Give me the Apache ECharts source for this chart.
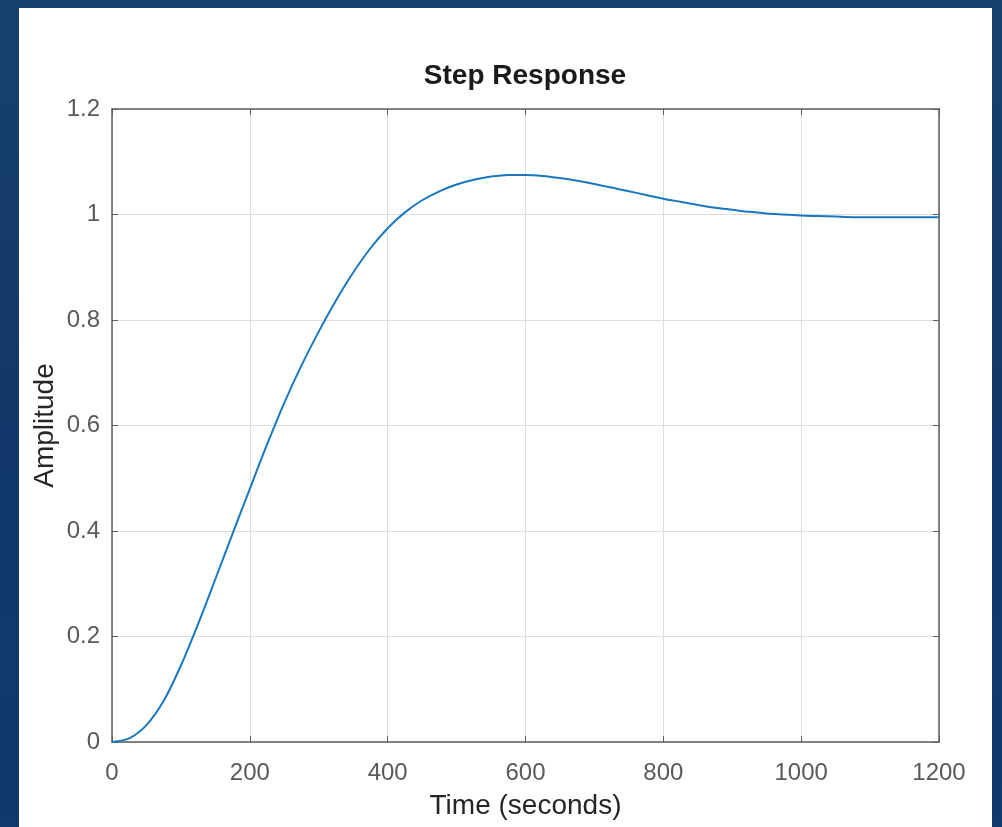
<!DOCTYPE html>
<html>
<head>
<meta charset="utf-8">
<style>
  html, body { margin: 0; padding: 0; width: 1002px; height: 827px; overflow: hidden;
    background: linear-gradient(180deg, #17406f 0%, #12386a 50%, #0f3a6e 100%); }
  #panel { position: absolute; left: 19px; top: 8px; width: 973px; height: 819px; background: #ffffff; }
  #chart { position: absolute; left: 0; top: 0; width: 1002px; height: 827px; }
</style>
<script src="https://cdn.jsdelivr.net/npm/echarts@6/dist/echarts.min.js"></script>
</head>
<body>
<div id="panel"></div>
<div id="chart"></div>
<script>
// Step response samples every 25 s
const timeSec = [0, 25, 50, 75, 100, 125, 150, 175, 200, 225, 250, 275, 300, 325, 350, 375, 400, 425, 450, 475,
  500, 525, 550, 575, 600, 625, 650, 675, 700, 725, 750, 775, 800, 825, 850, 875, 900, 925, 950, 975,
  1000, 1025, 1050, 1075, 1100, 1125, 1150, 1175, 1200];
const amplitude = [0, 0.007, 0.032, 0.078, 0.145, 0.224, 0.309, 0.395, 0.48, 0.564, 0.643, 0.714, 0.778, 0.837,
  0.890, 0.936, 0.974, 1.004, 1.027, 1.044, 1.057, 1.066, 1.072, 1.075, 1.075, 1.073, 1.069, 1.064, 1.058, 1.051,
  1.044, 1.037, 1.030, 1.024, 1.018, 1.013, 1.009, 1.005, 1.002, 1.0, 0.998, 0.997, 0.996, 0.995, 0.995,
  0.995, 0.995, 0.995, 0.995];

const xTicks = [0, 200, 400, 600, 800, 1000, 1200];
const yTicks = [0, 0.2, 0.4, 0.6, 0.8, 1, 1.2];

const FONT = '"Liberation Sans", Arial, sans-serif';
const AXIS_COLOR = '#5e5e5e';

const chart = echarts.init(document.getElementById('chart'), null, { renderer: 'canvas' });

// Top and right axes only close the box: line and inward ticks, no labels
const boxAxis = {
  axisLine: { show: true, onZero: false, lineStyle: { color: AXIS_COLOR, width: 1.5 } },
  axisTick: { show: true, inside: true, length: 6, lineStyle: { color: AXIS_COLOR, width: 1 } },
  splitLine: { show: false },
  axisLabel: { show: false }
};

chart.setOption({
  backgroundColor: 'transparent',
  animation: false,
  title: {
    text: 'Step Response',
    left: 520, top: 57, textAlign: 'center',
    textStyle: { fontFamily: FONT, fontSize: 28, fontWeight: 'bold', color: '#1a1a1a' }
  },
  grid: { left: 112, right: 63, top: 109, bottom: 85, containLabel: false },
  xAxis: [{
    type: 'value', min: xTicks[0], max: xTicks[xTicks.length - 1], interval: 200,
    name: 'Time (seconds)', nameLocation: 'middle', nameGap: 50, nameMoveOverlap: false,
    nameTextStyle: { fontFamily: FONT, fontSize: 28, color: '#262626' },
    axisLine: { show: true, onZero: false, lineStyle: { color: AXIS_COLOR, width: 1.5 } },
    axisTick: { show: true, inside: true, length: 6, lineStyle: { color: AXIS_COLOR, width: 1 } },
    axisLabel: { fontFamily: FONT, fontSize: 24, color: '#5a5a5a', margin: 19,
      formatter: v => String(v) },
    splitLine: { show: true, lineStyle: { color: '#dedede', width: 1 } }
  }, Object.assign({ type: 'value', position: 'top', min: xTicks[0], max: xTicks[xTicks.length - 1], interval: 200 }, boxAxis)],
  yAxis: [{
    type: 'value', min: yTicks[0], max: yTicks[yTicks.length - 1], interval: 0.2,
    name: 'Amplitude', nameLocation: 'middle', nameGap: 53, nameMoveOverlap: false,
    nameTextStyle: { fontFamily: FONT, fontSize: 28, color: '#262626' },
    axisLine: { show: true, onZero: false, lineStyle: { color: AXIS_COLOR, width: 1.5 } },
    axisTick: { show: true, inside: true, length: 6, lineStyle: { color: AXIS_COLOR, width: 1 } },
    axisLabel: { fontFamily: FONT, fontSize: 24, color: '#5a5a5a', margin: 12,
      formatter: v => String(Math.round(v * 10) / 10) },
    splitLine: { show: true, lineStyle: { color: '#dedede', width: 1 } }
  }, Object.assign({ type: 'value', position: 'right', min: yTicks[0], max: yTicks[yTicks.length - 1], interval: 0.2 }, boxAxis)],
  series: [{
    type: 'line',
    data: timeSec.map((t, i) => [t, amplitude[i]]),
    smooth: 0.3,
    showSymbol: false,
    lineStyle: { color: '#1a78c2', width: 2 },
    clip: true
  }]
});
</script>
</body>
</html>
